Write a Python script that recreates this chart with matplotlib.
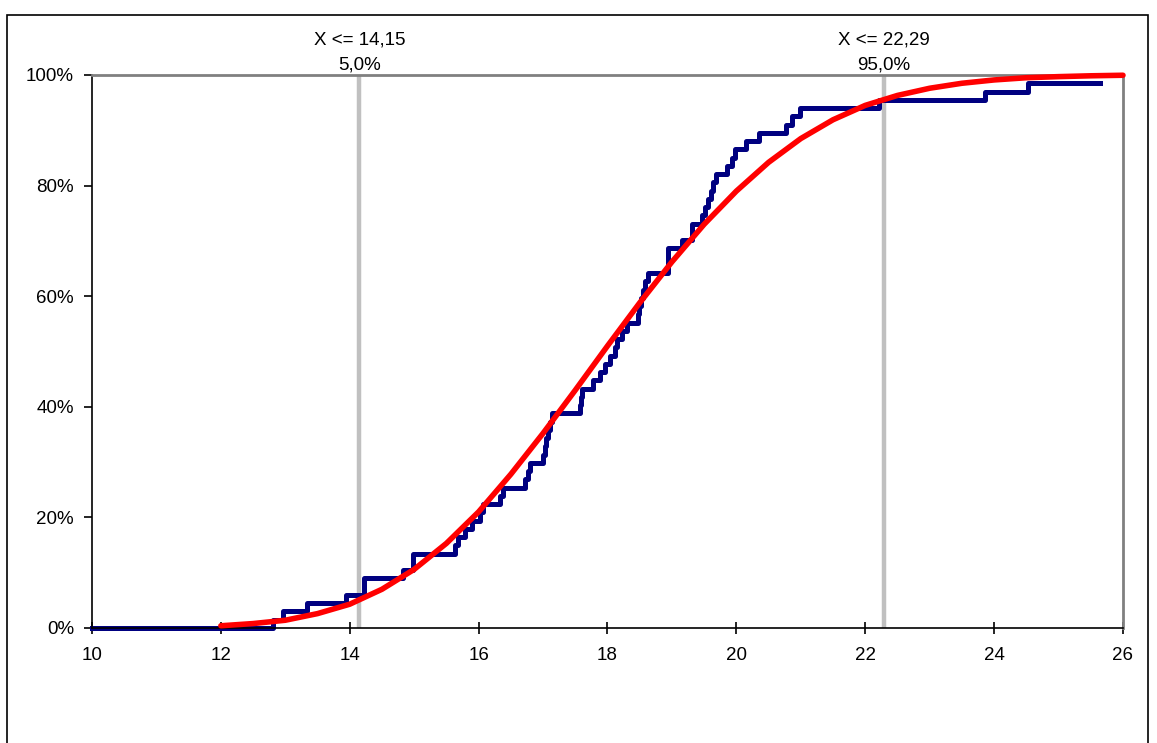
import matplotlib
matplotlib.use("Agg")
import matplotlib.pyplot as plt
from matplotlib.patches import Rectangle
from matplotlib.ticker import FuncFormatter

plt.rcParams["font.family"] = ["Liberation Sans", "DejaVu Sans"]

# empirical cumulative curve: x where each level starts, level in percent
step_x = [10.0, 12.81, 12.96, 13.34, 13.94, 14.22, 14.83, 14.98,
          15.63, 15.68, 15.79, 15.90, 16.02, 16.07, 16.33, 16.38,
          16.72, 16.77, 16.80, 17.00, 17.03, 17.05, 17.08, 17.11,
          17.14, 17.57, 17.59, 17.61, 17.77, 17.88, 17.96, 18.04,
          18.12, 18.15, 18.22, 18.30, 18.47, 18.49, 18.52, 18.55,
          18.58, 18.63, 18.94, 19.16, 19.31, 19.47, 19.52, 19.56,
          19.60, 19.64, 19.69, 19.85, 19.93, 19.98, 20.15, 20.35,
          20.77, 20.86, 20.99, 22.22, 23.86, 24.53]
step_pct = [0.0, 1.49, 2.99, 4.48, 5.97, 8.96, 10.45, 13.43,
            14.93, 16.42, 17.91, 19.40, 20.90, 22.39, 23.88, 25.37,
            26.87, 28.36, 29.85, 31.34, 32.84, 34.33, 35.82, 37.31,
            38.81, 40.30, 41.79, 43.28, 44.78, 46.27, 47.76, 49.25,
            50.75, 52.24, 53.73, 55.22, 56.72, 58.21, 59.70, 61.19,
            62.69, 64.18, 68.66, 70.15, 73.13, 74.63, 76.12, 77.61,
            79.10, 80.60, 82.09, 83.58, 85.07, 86.57, 88.06, 89.55,
            91.04, 92.54, 94.03, 95.52, 97.01, 98.51]
step_end = 25.64

# fitted cumulative curve
fit_x = [12.0, 12.5, 13.0, 13.5, 14.0, 14.5, 15.0, 15.5, 16.0, 16.5,
         17.0, 17.5, 18.0, 18.5, 19.0, 19.5, 20.0, 20.5, 21.0, 21.5,
         22.0, 22.5, 23.0, 23.5, 24.0, 24.5, 25.0, 25.5, 26.0]
fit_pct = [0.4, 0.8, 1.4, 2.6, 4.3, 7.0, 10.6, 15.3, 21.0, 27.8,
           35.2, 43.0, 51.0, 58.8, 66.2, 73.0, 79.0, 84.2, 88.5, 91.9,
           94.5, 96.3, 97.6, 98.5, 99.1, 99.5, 99.7, 99.85, 99.95]

# percentile markers
marker_x = [14.15, 22.29]
marker_pct = ["5,0%", "95,0%"]
marker_text = ["X <= 14,15", "X <= 22,29"]

x_ticks = [10, 12, 14, 16, 18, 20, 22, 24, 26]
y_ticks = [0, 20, 40, 60, 80, 100]

fig = plt.figure(figsize=(11.57, 7.43), dpi=100)
ax = fig.add_axes([0.0795, 0.1548, 0.8911, 0.7443])

# outer frame around the whole chart
fig.patches.append(Rectangle((7 / 1157, -0.01), 1141 / 1157, 1 - 15 / 743 + 0.01,
                             transform=fig.transFigure, fill=False,
                             edgecolor="black", linewidth=1.2))

for mx in marker_x:
    ax.plot([mx, mx], [0, 100], color="#c0c0c0", linewidth=3.2, zorder=1,
            solid_capstyle="butt")

ax.step(step_x + [step_end], step_pct + [step_pct[-1]], where="post",
        color="#000080", linewidth=3.6, zorder=2, clip_on=False)
ax.plot(fit_x, fit_pct, color="#ff0000", linewidth=4.0, zorder=3,
        clip_on=False, solid_capstyle="round", solid_joinstyle="round")

for mx, mp, mt in zip(marker_x, marker_pct, marker_text):
    ax.annotate(mp, xy=(mx, 100), xytext=(0, 1), textcoords="offset points",
                ha="center", va="bottom", fontsize=13.5)
    ax.annotate(mt, xy=(mx, 100), xytext=(0, 19), textcoords="offset points",
                ha="center", va="bottom", fontsize=13.5)

ax.set_xlim(10, 26)
ax.set_ylim(0, 100)
ax.set_xticks(x_ticks)
ax.set_yticks(y_ticks)
ax.yaxis.set_major_formatter(FuncFormatter(lambda v, p: f"{v:.0f}%"))

ax.tick_params(axis="x", direction="inout", length=9, width=1.2,
               labelsize=13.5, pad=9)
ax.tick_params(axis="y", direction="out", length=6, width=1.2,
               labelsize=13.5, pad=7)

ax.spines["left"].set_color("black")
ax.spines["bottom"].set_color("black")
ax.spines["left"].set_linewidth(1.2)
ax.spines["bottom"].set_linewidth(1.2)
ax.spines["top"].set_color("#808080")
ax.spines["right"].set_color("#808080")
ax.spines["top"].set_linewidth(2)
ax.spines["right"].set_linewidth(2)

fig.savefig("out.png", dpi=100)
